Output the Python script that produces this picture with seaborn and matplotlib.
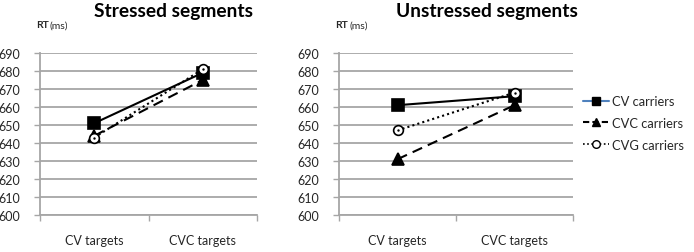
import matplotlib
matplotlib.use("Agg")
import matplotlib.pyplot as plt
from matplotlib.lines import Line2D
import seaborn as sns
import pandas as pd

sns.set_theme(style="white")
plt.rcParams['font.family'] = ['Lato', 'DejaVu Sans']

targets = ["CV targets", "CVC targets"]
series = ["CV carriers", "CVC carriers", "CVG carriers"]
stressed_cv = [651, 679]
stressed_cvc = [644, 675]
stressed_cvg = [643, 681]
unstressed_cv = [661, 666]
unstressed_cvc = [631, 661]
unstressed_cvg = [647, 668]
yticks = list(range(600, 700, 10))

styles = {
    "CV carriers": dict(ls="-", marker="s", mfc="black", ms=8),
    "CVC carriers": dict(ls=(0, (5, 3)), marker="^", mfc="black", ms=8),
    "CVG carriers": dict(ls=(0, (1, 1.5)), marker="o", mfc="white", ms=7),
}

W, H = 694, 253
fig = plt.figure(figsize=(W / 100, H / 100), dpi=100)

def axrect(x0, x1, y0, y1):
    return [x0 / W, 1 - y1 / H, (x1 - x0) / W, (y1 - y0) / H]

ax1 = fig.add_axes(axrect(40, 257, 54, 216))
ax2 = fig.add_axes(axrect(339, 573, 54, 216))

panels = [
    (ax1, [stressed_cv, stressed_cvc, stressed_cvg]),
    (ax2, [unstressed_cv, unstressed_cvc, unstressed_cvg]),
]

grid_c = "#a6a6a6"
text_c = "#262626"

for ax, vals in panels:
    df = pd.DataFrame({
        "target": targets * 3,
        "RT": [v for s in vals for v in s],
        "series": [s for s in series for _ in targets],
    })
    for name in series:
        st = styles[name]
        sub = df[df["series"] == name]
        sns.lineplot(data=sub, x="target", y="RT", ax=ax, color="black",
                     linestyle=st["ls"], marker=st["marker"], markersize=st["ms"],
                     markerfacecolor=st["mfc"], markeredgecolor="black",
                     markeredgewidth=1.2, linewidth=1.5, legend=False)
    # centre dot of the open circle markers
    subg = df[df["series"] == "CVG carriers"]
    sns.scatterplot(data=subg, x="target", y="RT", ax=ax, color="black",
                    s=3, linewidth=0, legend=False, zorder=5)
    ax.set_xlim(-0.5, 1.5)
    ax.set_ylim(600, 690)
    ax.set_yticks(yticks)
    ax.set_yticklabels([str(t) for t in yticks], fontsize=9, color=text_c)
    ax.set_xticks([0, 1])
    ax.set_xticklabels(targets, fontsize=9, color=text_c)
    ax.set_xticks([-0.5, 0.5, 1.5], minor=True)
    ax.tick_params(axis="x", which="major", length=0, pad=14)
    ax.tick_params(axis="x", which="minor", length=4, width=1, color=grid_c, bottom=True)
    ax.tick_params(axis="y", which="major", length=4, width=1, color=grid_c, left=True, pad=10)
    ax.set_xlabel("")
    ax.set_ylabel("")
    ax.yaxis.grid(True, color=grid_c, linewidth=1.3)
    ax.set_axisbelow(True)
    for sp in ["top", "right"]:
        ax.spines[sp].set_visible(False)
    for sp in ["left", "bottom"]:
        ax.spines[sp].set_color(grid_c)
        ax.spines[sp].set_linewidth(1.3)

# titles
fig.text(173 / W, 1 - 12 / H, "Stressed segments", ha="center", va="center",
         fontsize=13.8, fontweight="bold", color="black")
fig.text(487 / W, 1 - 12 / H, "Unstressed segments", ha="center", va="center",
         fontsize=13.8, fontweight="bold", color="black")

for x in (36, 335):
    fig.text(x / W, 1 - 26 / H, "RT", ha="left", va="center", fontsize=7.5,
             fontweight="bold", color=text_c)
    fig.text((x + 14) / W, 1 - 26 / H, "(ms)", ha="left", va="center", fontsize=7.5,
             color=text_c)

handles = [
    Line2D([], [], color="#4f81bd", ls="-", marker="s", mfc="black", mec="black", ms=6, lw=1.5),
    Line2D([], [], color="black", ls=(0, (3, 1.5)), marker="^", mfc="black", mec="black", ms=6, lw=1.5),
    Line2D([], [], color="black", ls=(0, (1, 1.5)), marker="o", mfc="white", mec="black", ms=5.5, lw=1.2),
]
fig.legend(handles, series, loc="center left", bbox_to_anchor=(583 / W, 1 - 124 / H),
           frameon=False, fontsize=9.3, handlelength=2.0, handletextpad=0.25,
           labelspacing=0.75, labelcolor=text_c, borderaxespad=0, borderpad=0)

fig.savefig("out.png", dpi=100)
